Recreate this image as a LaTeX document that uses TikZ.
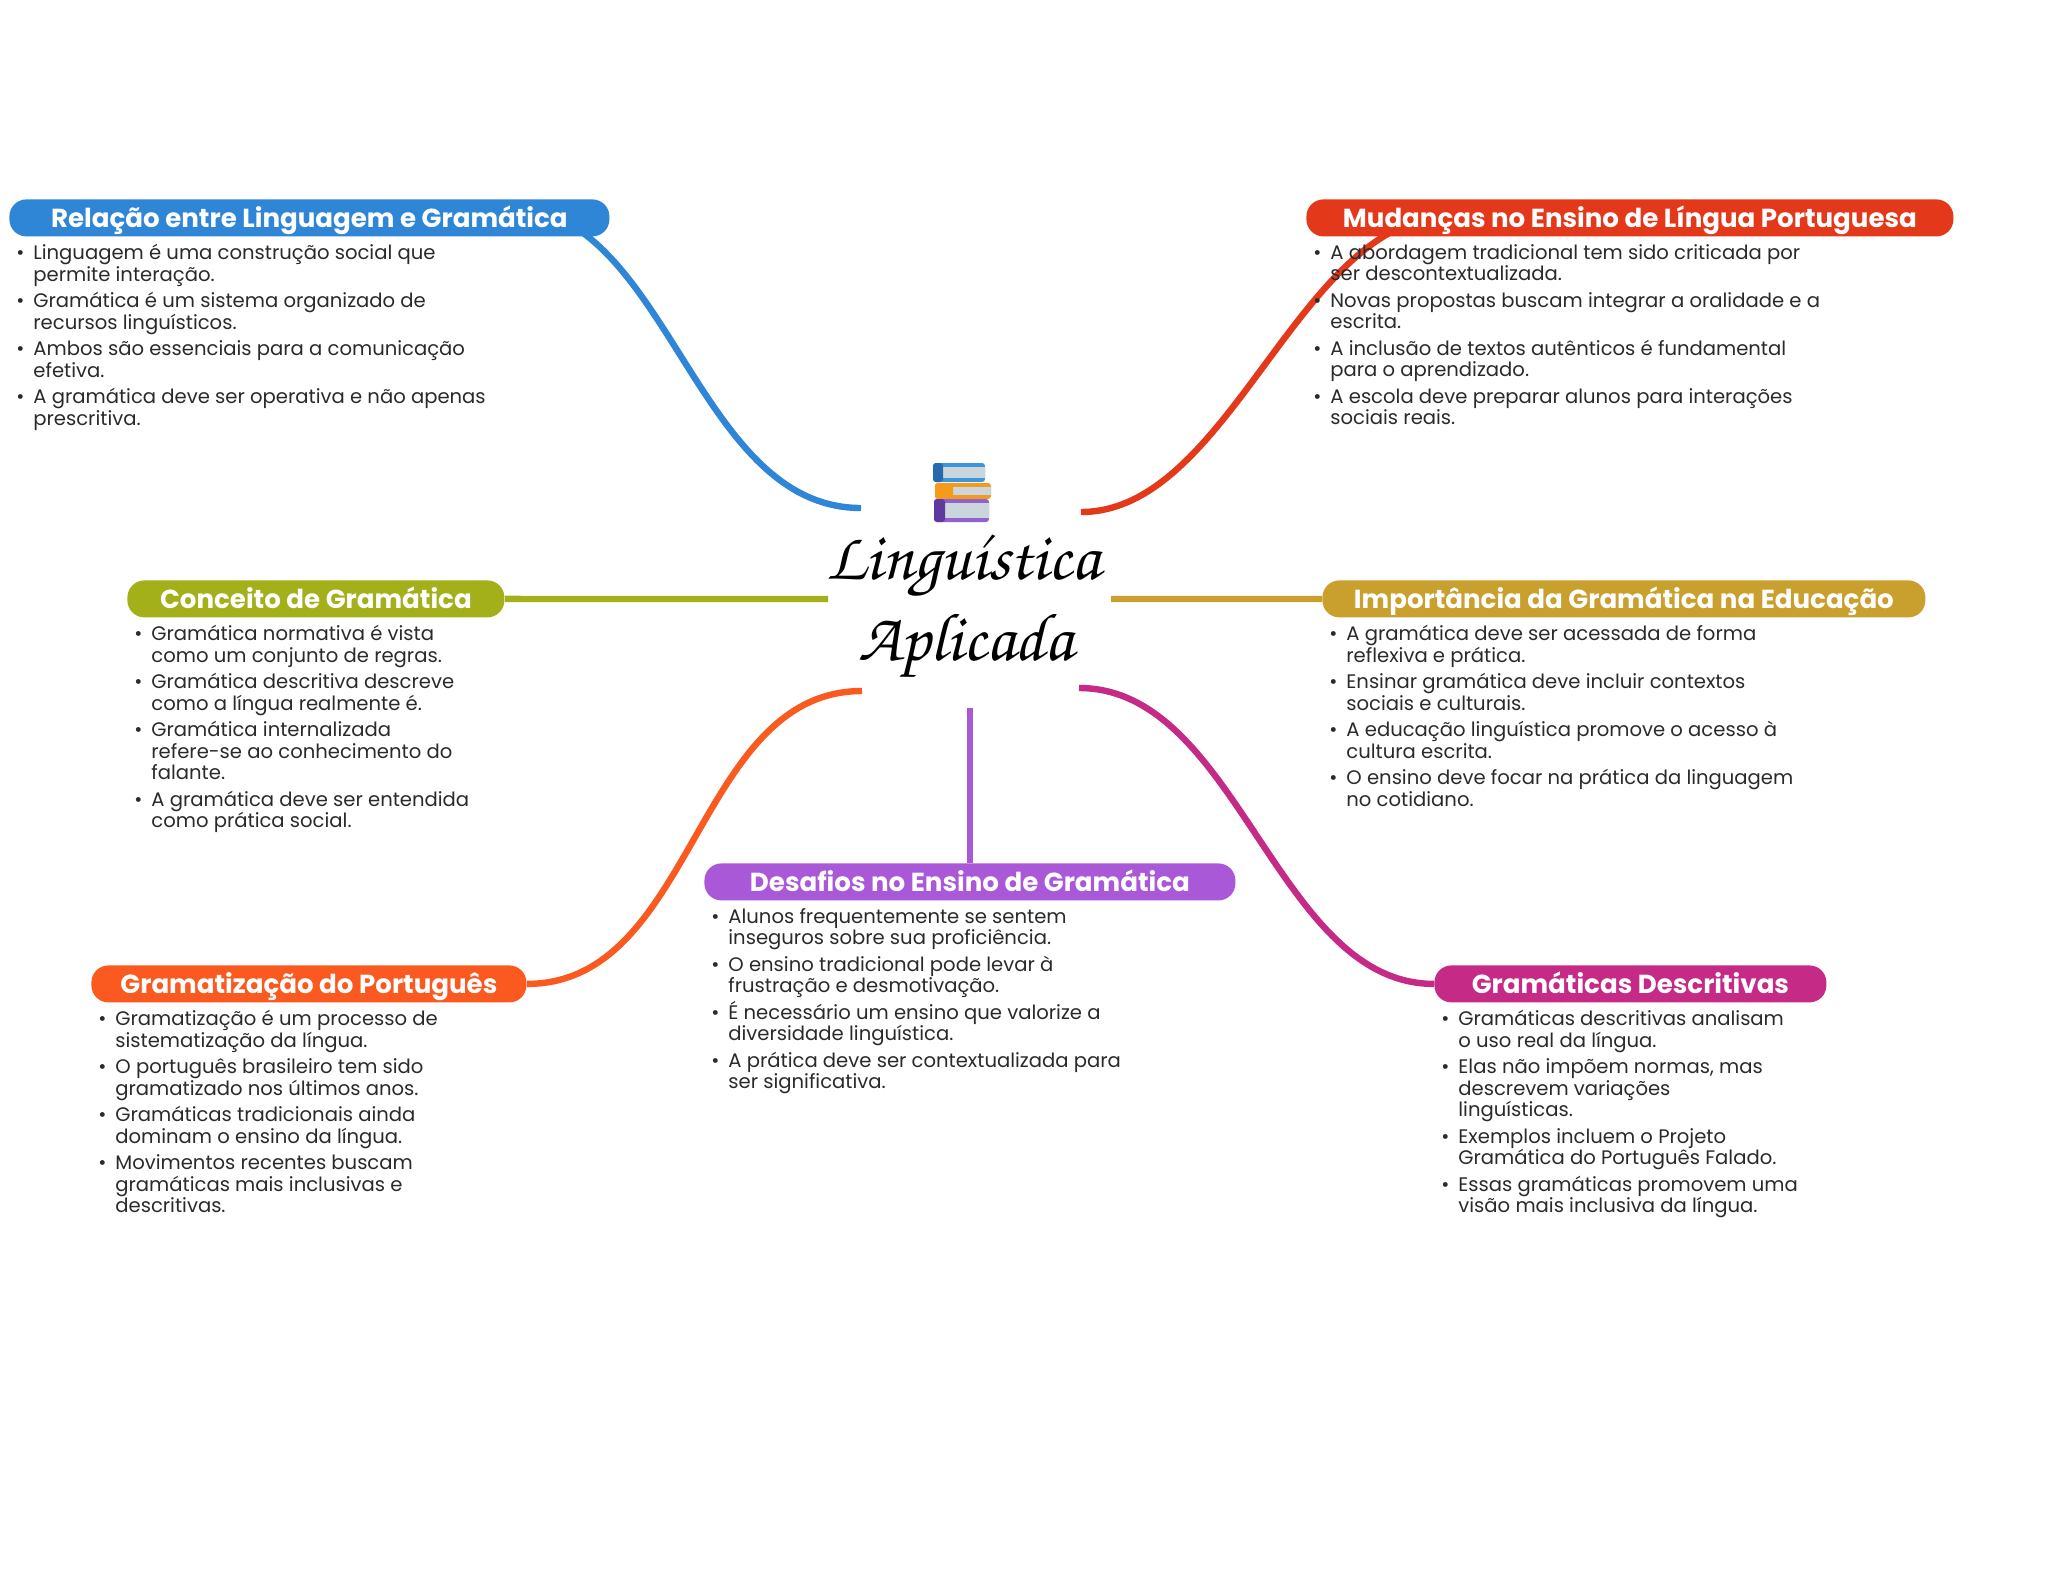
\documentclass[tikz,border=0pt]{standalone}
\usepackage[T1]{fontenc}
\usepackage{fontspec}
\setmainfont{Poppins}
\usepackage{xcolor}
\usetikzlibrary{positioning,backgrounds}
\definecolor{stBlue}{HTML}{2F86D6}
\definecolor{stRed}{HTML}{E4381A}
\definecolor{stOlive}{HTML}{A3B01A}
\definecolor{stGold}{HTML}{C9A02D}
\definecolor{stOrange}{HTML}{FA5A20}
\definecolor{stPurple}{HTML}{A958D8}
\definecolor{stMagenta}{HTML}{C52A86}
\definecolor{stText}{HTML}{2A2A2A}
\definecolor{stPages}{HTML}{CBD6DC}
\definecolor{stBookBlue}{HTML}{3C96DC}
\definecolor{stBookOrange}{HTML}{F59A1B}
\definecolor{stBookPurple}{HTML}{8F62CC}
\definecolor{stSpinePurple}{HTML}{5E3A9E}
\newcommand{\itm}{\leavevmode\llap{\textbullet\hspace{4.5pt}}}
\newcommand{\handfont}{\fontencoding{T1}\fontfamily{pzc}\fontseries{mb}\fontshape{it}\fontsize{34}{40}\selectfont}

\begin{document}
\begin{tikzpicture}[
  x=0.5pt,y=-0.5pt,
  pill/.style={rounded corners=8.5pt,text=white,font=\fontsize{13.05}{15}\selectfont\bfseries,
    inner sep=0pt,minimum height=18.5pt,text height=11.8pt,text depth=2.6pt,anchor=north west},
  body/.style={text=stText,align=left,inner sep=0pt,
    font=\fontsize{9.8}{10.8}\selectfont},
  branch/.style={line width=3.2pt},
  title/.style={inner sep=0pt,font=\handfont},
]
  \useasboundingbox (0,0) rectangle (2048,1569);

  % topics
  \node[pill,fill=stBlue,minimum width=300pt] (blue) at (9,199) {Relação entre Linguagem e Gramática};
  \node[pill,fill=stRed,minimum width=323.5pt] (red) at (1306,199) {Mudanças no Ensino de Língua Portuguesa};
  \node[pill,fill=stOlive,minimum width=188.5pt] (olive) at (127,580) {Conceito de Gramática};
  \node[pill,fill=stGold,minimum width=301.5pt] (gold) at (1322,580) {Importância da Gramática na Educação};
  \node[pill,fill=stOrange,minimum width=217.5pt] (orange) at (91,965) {Gramatização do Português};
  \node[pill,fill=stPurple,minimum width=265.5pt] (purple) at (704,863) {Desafios no Ensino de Gramática};
  \node[pill,fill=stMagenta,minimum width=196pt] (magenta) at (1434,965) {Gramáticas Descritivas};

  % lists
  \node[body,below right=3.5pt and 12pt of blue.south west] (bluetext) {%
    \itm Linguagem é uma construção social que\\permite interação.\\[2.4pt]
    \itm Gramática é um sistema organizado de\\recursos linguísticos.\\[2.4pt]
    \itm Ambos são essenciais para a comunicação\\efetiva.\\[2.4pt]
    \itm A gramática deve ser operativa e não apenas\\prescritiva.};
  \node[body,below right=3.5pt and 12pt of red.south west] (redtext) {%
    \itm A abordagem tradicional tem sido criticada por\\ser descontextualizada.\\[2.4pt]
    \itm Novas propostas buscam integrar a oralidade e a\\escrita.\\[2.4pt]
    \itm A inclusão de textos autênticos é fundamental\\para o aprendizado.\\[2.4pt]
    \itm A escola deve preparar alunos para interações\\sociais reais.};
  \node[body,below right=3.5pt and 12pt of olive.south west] (olivetext) {%
    \itm Gramática normativa é vista\\como um conjunto de regras.\\[2.4pt]
    \itm Gramática descritiva descreve\\como a língua realmente é.\\[2.4pt]
    \itm Gramática internalizada\\refere-se ao conhecimento do\\falante.\\[2.4pt]
    \itm A gramática deve ser entendida\\como prática social.};
  \node[body,below right=3.5pt and 12pt of gold.south west] (goldtext) {%
    \itm A gramática deve ser acessada de forma\\reflexiva e prática.\\[2.4pt]
    \itm Ensinar gramática deve incluir contextos\\sociais e culturais.\\[2.4pt]
    \itm A educação linguística promove o acesso à\\cultura escrita.\\[2.4pt]
    \itm O ensino deve focar na prática da linguagem\\no cotidiano.};
  \node[body,below right=3.5pt and 12pt of orange.south west] (orangetext) {%
    \itm Gramatização é um processo de\\sistematização da língua.\\[2.4pt]
    \itm O português brasileiro tem sido\\gramatizado nos últimos anos.\\[2.4pt]
    \itm Gramáticas tradicionais ainda\\dominam o ensino da língua.\\[2.4pt]
    \itm Movimentos recentes buscam\\gramáticas mais inclusivas e\\descritivas.};
  \node[body,below right=3.5pt and 12pt of purple.south west] (purpletext) {%
    \itm Alunos frequentemente se sentem\\inseguros sobre sua proficiência.\\[2.4pt]
    \itm O ensino tradicional pode levar à\\frustração e desmotivação.\\[2.4pt]
    \itm \smash{É} necessário um ensino que valorize a\\diversidade linguística.\\[2.4pt]
    \itm A prática deve ser contextualizada para\\ser significativa.};
  \node[body,below right=3.5pt and 12pt of magenta.south west] (magentatext) {%
    \itm Gramáticas descritivas analisam\\o uso real da língua.\\[2.4pt]
    \itm Elas não impõem normas, mas\\descrevem variações\\linguísticas.\\[2.4pt]
    \itm Exemplos incluem o Projeto\\Gramática do Português Falado.\\[2.4pt]
    \itm Essas gramáticas promovem uma\\visão mais inclusiva da língua.};

  % centre
  \node[title] (ling) at (963,568) {Linguística};
  \node[title] (apli) at (966,647) {Aplicada};

  % books
  \foreach \bx/\by/\bw/\bh/\bs/\bc/\bd in {933/463/52/19/10/stBookBlue/stBlue!80!black,
      935/483/56/16/18/stBookOrange/stBookOrange,934/499/55/23/11/stBookPurple/stSpinePurple}{
    \fill[\bc,rounded corners=1.5pt] (\bx,\by) rectangle ++(\bw,\bh);
    \fill[stPages] (\bx+\bs,\by+4) rectangle ++(\bw-\bs,\bh-8);
    \fill[\bd,rounded corners=1.5pt] (\bx,\by) rectangle ++(\bs,\bh);
  }

  % branches
  \coordinate (hubblue) at (861,508);
  \coordinate (hubred) at (1081,512);
  \coordinate (hubolive) at (828,599);
  \coordinate (hubgold) at (1111,599);
  \coordinate (huborange) at (862,691);
  \coordinate (hubpurple) at ([yshift=77.5pt]purple.north);
  \coordinate (hubmagenta) at (1079,688);
  \begin{scope}[on background layer]
    \draw[branch,stBlue] (hubblue) .. controls (693,508) and (668,205) .. ([xshift=-52pt,yshift=15pt]blue.south east);
    \draw[branch,stRed] (hubred) .. controls (1231,512) and (1300,215) .. ([xshift=72pt,yshift=10pt]red.south west);
    \draw[branch,stOlive] (hubolive) -- (olive);
    \draw[branch,stGold] (hubgold) -- (gold);
    \draw[branch,stOrange] (huborange) .. controls (695,691) and (695,984) .. (orange.east);
    \draw[branch,stPurple] (hubpurple) -- (purple.north);
    \draw[branch,stMagenta] (hubmagenta) .. controls (1238,688) and (1276,984) .. (magenta.west);
  \end{scope}
\end{tikzpicture}
\end{document}
